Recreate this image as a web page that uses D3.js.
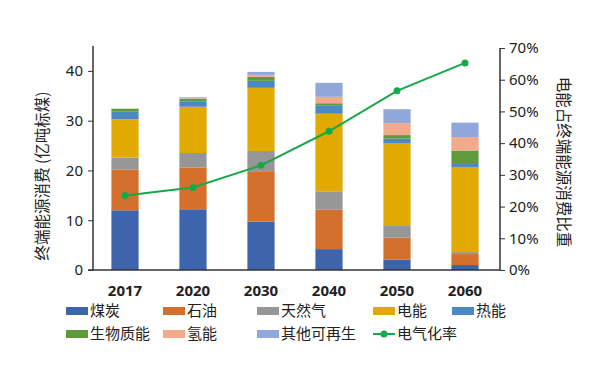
<!DOCTYPE html>
<html>
<head>
<meta charset="utf-8">
<script src="https://cdn.jsdelivr.net/npm/d3@7"></script>
<style>
  body { margin: 0; background: #fff; }
  text { font-family: "Noto Sans CJK SC", "Noto Sans", sans-serif; fill: #222; }
</style>
</head>
<body>
<div id="graph"></div>
<script>
// data
const years = ["2017", "2020", "2030", "2040", "2050", "2060"];
const seriesNames = ["煤炭", "石油", "天然气", "电能", "热能", "生物质能", "氢能", "其他可再生"];
const coal   = [12.0, 12.2, 9.7, 4.2, 2.1, 1.0];
const oil    = [8.2, 8.4, 10.0, 7.9, 4.4, 2.2];
const gas    = [2.4, 2.9, 4.2, 3.7, 2.5, 0.4];
const elec   = [7.7, 9.3, 12.7, 15.6, 16.5, 17.1];
const heat   = [1.5, 1.1, 1.4, 1.7, 0.9, 0.6];
const bio    = [0.6, 0.5, 0.8, 0.4, 0.7, 2.7];
const h2     = [0.0, 0.1, 0.4, 1.3, 2.4, 2.7];
const other  = [0.0, 0.2, 0.6, 2.8, 2.8, 2.9];
const elecRate = [0.235, 0.26, 0.33, 0.4375, 0.565, 0.653];
const leftTicks = [0, 10, 20, 30, 40];
const rightTicks = [0, 0.1, 0.2, 0.3, 0.4, 0.5, 0.6, 0.7];

const colors = ["#3d64ad", "#d4702b", "#969696", "#e2aa00", "#4b89c2", "#5f9a3b", "#f2aa8c", "#8fa7da"];
const lineColor = "#17a84a";

const rows = years.map((y, i) => ({
  year: y,
  "煤炭": coal[i], "石油": oil[i], "天然气": gas[i], "电能": elec[i],
  "热能": heat[i], "生物质能": bio[i], "氢能": h2[i], "其他可再生": other[i]
}));

const svgWidth = 600;
const svgHeight = 372;

const svg = d3.select("#graph")
  .append("svg")
  .attr("width", svgWidth)
  .attr("height", svgHeight);

const xScale = d3.scaleBand()
  .domain(years)
  .range([91, 499])
  .paddingInner(0.6)
  .paddingOuter(0.3);

const yScale = d3.scaleLinear().domain([0, 45]).range([270, 46]);
const yRight = d3.scaleLinear().domain([0, 0.7]).range([270, 48]);

// stacked bars
const stacked = d3.stack().keys(seriesNames)(rows);

svg.append("g")
  .selectAll("g")
  .data(stacked)
  .enter()
  .append("g")
  .attr("fill", (d, i) => colors[i])
  .selectAll("rect")
  .data(d => d)
  .enter()
  .append("rect")
  .attr("x", d => xScale(d.data.year))
  .attr("width", xScale.bandwidth())
  .attr("y", d => yScale(d[1]))
  .attr("height", d => yScale(d[0]) - yScale(d[1]));

// left axis
const leftAxis = svg.append("g")
  .attr("transform", "translate(93,0)")
  .call(d3.axisLeft(yScale).tickValues(leftTicks).tickSize(5).tickSizeOuter(0));
leftAxis.select(".domain").attr("d", "M0,46V270").attr("stroke", "#333").attr("stroke-width", 1.5);
leftAxis.selectAll(".tick line").attr("stroke", "#333");
leftAxis.selectAll(".tick text").attr("font-size", 15).attr("x", -10)
  .style("font-family", "'Noto Sans', sans-serif");

// right axis
const rightAxis = svg.append("g")
  .attr("transform", "translate(500,0)")
  .call(d3.axisRight(yRight).tickValues(rightTicks).tickFormat(d3.format(".0%")).tickSize(5).tickSizeOuter(0));
rightAxis.select(".domain").attr("d", "M0,48V270").attr("stroke", "#333").attr("stroke-width", 1.5);
rightAxis.selectAll(".tick line").attr("stroke", "#333");
rightAxis.selectAll(".tick text").attr("font-size", 15).attr("x", 9)
  .style("font-family", "'Noto Sans', sans-serif");

// x axis
const xAxis = svg.append("g")
  .attr("transform", "translate(0,270)")
  .call(d3.axisBottom(xScale).tickSize(0).tickSizeOuter(0));
xAxis.select(".domain").attr("d", "M88,0H500").attr("stroke", "#333").attr("stroke-width", 1.5);
xAxis.selectAll(".tick text").attr("font-size", 15).attr("font-weight", "bold").attr("dy", "1.5em")
  .style("font-family", "'Noto Sans', sans-serif");

// electrification line
const xc = d => xScale(d) + xScale.bandwidth() / 2;
svg.append("path")
  .datum(elecRate)
  .attr("fill", "none")
  .attr("stroke", lineColor)
  .attr("stroke-width", 2)
  .attr("d", d3.line().x((d, i) => xc(years[i])).y(d => yRight(d)));

svg.selectAll(".dot")
  .data(elecRate)
  .enter()
  .append("circle")
  .attr("cx", (d, i) => xc(years[i]))
  .attr("cy", d => yRight(d))
  .attr("r", 3.5)
  .attr("fill", lineColor);

// axis titles
svg.append("text")
  .attr("transform", "translate(48,176) rotate(-90)")
  .attr("text-anchor", "middle")
  .attr("font-size", 15.5)
  .text("终端能源消费 (亿吨标煤)");

svg.append("text")
  .attr("transform", "translate(558,162) rotate(90)")
  .attr("text-anchor", "middle")
  .attr("font-size", 15.5)
  .text("电能占终端能源消费比重");

// legend
const legendItems = [
  { name: "煤炭", x: 66, y: 311, c: colors[0] },
  { name: "石油", x: 163, y: 311, c: colors[1] },
  { name: "天然气", x: 257, y: 311, c: colors[2] },
  { name: "电能", x: 373, y: 311, c: colors[3] },
  { name: "热能", x: 452, y: 311, c: colors[4] },
  { name: "生物质能", x: 66, y: 334, c: colors[5] },
  { name: "氢能", x: 163, y: 334, c: colors[6] },
  { name: "其他可再生", x: 257, y: 334, c: colors[7] }
];

const legend = svg.append("g");
legendItems.forEach(item => {
  legend.append("rect")
    .attr("x", item.x).attr("y", item.y - 4)
    .attr("width", 22).attr("height", 8)
    .attr("fill", item.c);
  legend.append("text")
    .attr("x", item.x + 24).attr("y", item.y)
    .attr("dy", "0.35em")
    .attr("font-size", 15)
    .text(item.name);
});

legend.append("line")
  .attr("x1", 373).attr("x2", 395).attr("y1", 334).attr("y2", 334)
  .attr("stroke", lineColor).attr("stroke-width", 2);
legend.append("circle")
  .attr("cx", 384).attr("cy", 334).attr("r", 3.5).attr("fill", lineColor);
legend.append("text")
  .attr("x", 397).attr("y", 334).attr("dy", "0.35em")
  .attr("font-size", 15)
  .text("电气化率");
</script>
</body>
</html>
